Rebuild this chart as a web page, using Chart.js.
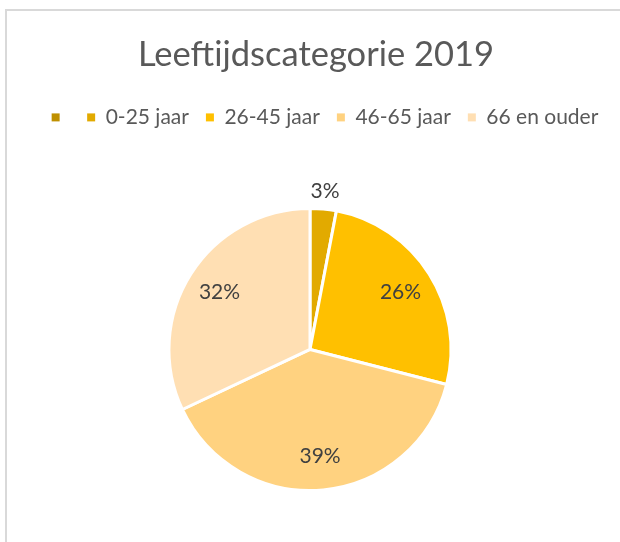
<!DOCTYPE html>
<html>
<head>
<meta charset="utf-8">
<script src="https://cdn.jsdelivr.net/npm/chart.js@4"></script>
<style>
  html, body { margin: 0; padding: 0; background: #fff; }
  #wrap { position: relative; width: 620px; height: 542px; overflow: hidden; }
  #frame { position: absolute; left: 5px; top: 9px; width: 700px; height: 700px;
           border-top: 2px solid #D9D9D9; border-left: 2px solid #D9D9D9; }
  canvas { position: absolute; left: 0; top: 0; }
</style>
</head>
<body>
<div id="wrap">
  <div id="frame"></div>
  <canvas id="c" width="620" height="542"></canvas>
</div>
<script>
const chartTitle = 'Leeftijdscategorie 2019';
const categories = ['', '0-25 jaar', '26-45 jaar', '46-65 jaar', '66 en ouder'];
const values = [0, 3, 26, 39, 32];
const colors = ['#BF9000', '#E2AA00', '#FFC000', '#FFD280', '#FFDFB3'];

const FONT = 'Lato, "Open Sans", sans-serif';
const LEGEND_EXTRA = 69;
const LEGEND_SHIFT_X = 15;
const TITLE_SHIFT_X = 6;

function shiftDraw(box, dx) {
  const orig = box.draw;
  box.draw = function (...args) {
    const ctx = this.ctx;
    ctx.save();
    ctx.translate(dx, 0);
    orig.apply(this, args);
    ctx.restore();
  };
}

const boxTweaks = {
  id: 'boxTweaks',
  beforeLayout(chart) {
    const lg = chart.legend;
    if (lg && !lg._patched) {
      const origFit = lg.fit;
      lg.fit = function () {
        origFit.call(this);
        this.height += LEGEND_EXTRA;
      };
      shiftDraw(lg, LEGEND_SHIFT_X);
      lg._patched = true;
    }
    const tt = chart.titleBlock;
    if (tt && !tt._patched) {
      shiftDraw(tt, TITLE_SHIFT_X);
      tt._patched = true;
    }
  }
};

const labelPlugin = {
  id: 'sliceLabels',
  afterDatasetsDraw(chart) {
    const ctx = chart.ctx;
    const meta = chart.getDatasetMeta(0);
    const data = chart.data.datasets[0].data;
    const total = data.reduce((a, b) => a + b, 0);
    ctx.save();
    ctx.font = '21px ' + FONT;
    ctx.fillStyle = '#404040';
    ctx.textAlign = 'center';
    ctx.textBaseline = 'middle';
    meta.data.forEach((arc, i) => {
      const v = data[i];
      if (!v) return;
      const p = arc.getProps(['x', 'y', 'startAngle', 'endAngle', 'outerRadius'], true);
      const mid = (p.startAngle + p.endAngle) / 2;
      const pct = v / total * 100;
      const f = pct < 5 ? 1.13 : 0.76;
      const x = p.x + Math.cos(mid) * p.outerRadius * f;
      const y = p.y + Math.sin(mid) * p.outerRadius * f;
      ctx.fillText(Math.round(pct) + '%', x, y);
    });
    ctx.restore();
  }
};

new Chart(document.getElementById('c'), {
  type: 'pie',
  data: {
    labels: categories,
    datasets: [{
      data: values,
      backgroundColor: colors,
      borderColor: '#FFFFFF',
      borderWidth: 3
    }]
  },
  options: {
    responsive: false,
    animation: false,
    layout: { padding: { top: 34, bottom: 50, left: 0, right: 0 } },
    plugins: {
      tooltip: { enabled: false },
      title: {
        display: true,
        text: chartTitle,
        color: '#595959',
        font: { family: FONT, size: 34.5, weight: 'normal' },
        padding: { top: 0, bottom: 14.5 }
      },
      legend: {
        display: true,
        position: 'top',
        labels: {
          color: '#595959',
          font: { family: FONT, size: 21 },
          boxWidth: 8,
          boxHeight: 8,
          padding: 17,
          generateLabels(chart) {
            const ds = chart.data.datasets[0];
            return chart.data.labels.map((l, i) => ({
              text: l,
              fillStyle: ds.backgroundColor[i],
              strokeStyle: ds.backgroundColor[i],
              lineWidth: 0,
              hidden: false,
              index: i,
              fontColor: '#595959'
            }));
          }
        }
      }
    }
  },
  plugins: [boxTweaks, labelPlugin]
});
</script>
</body>
</html>
